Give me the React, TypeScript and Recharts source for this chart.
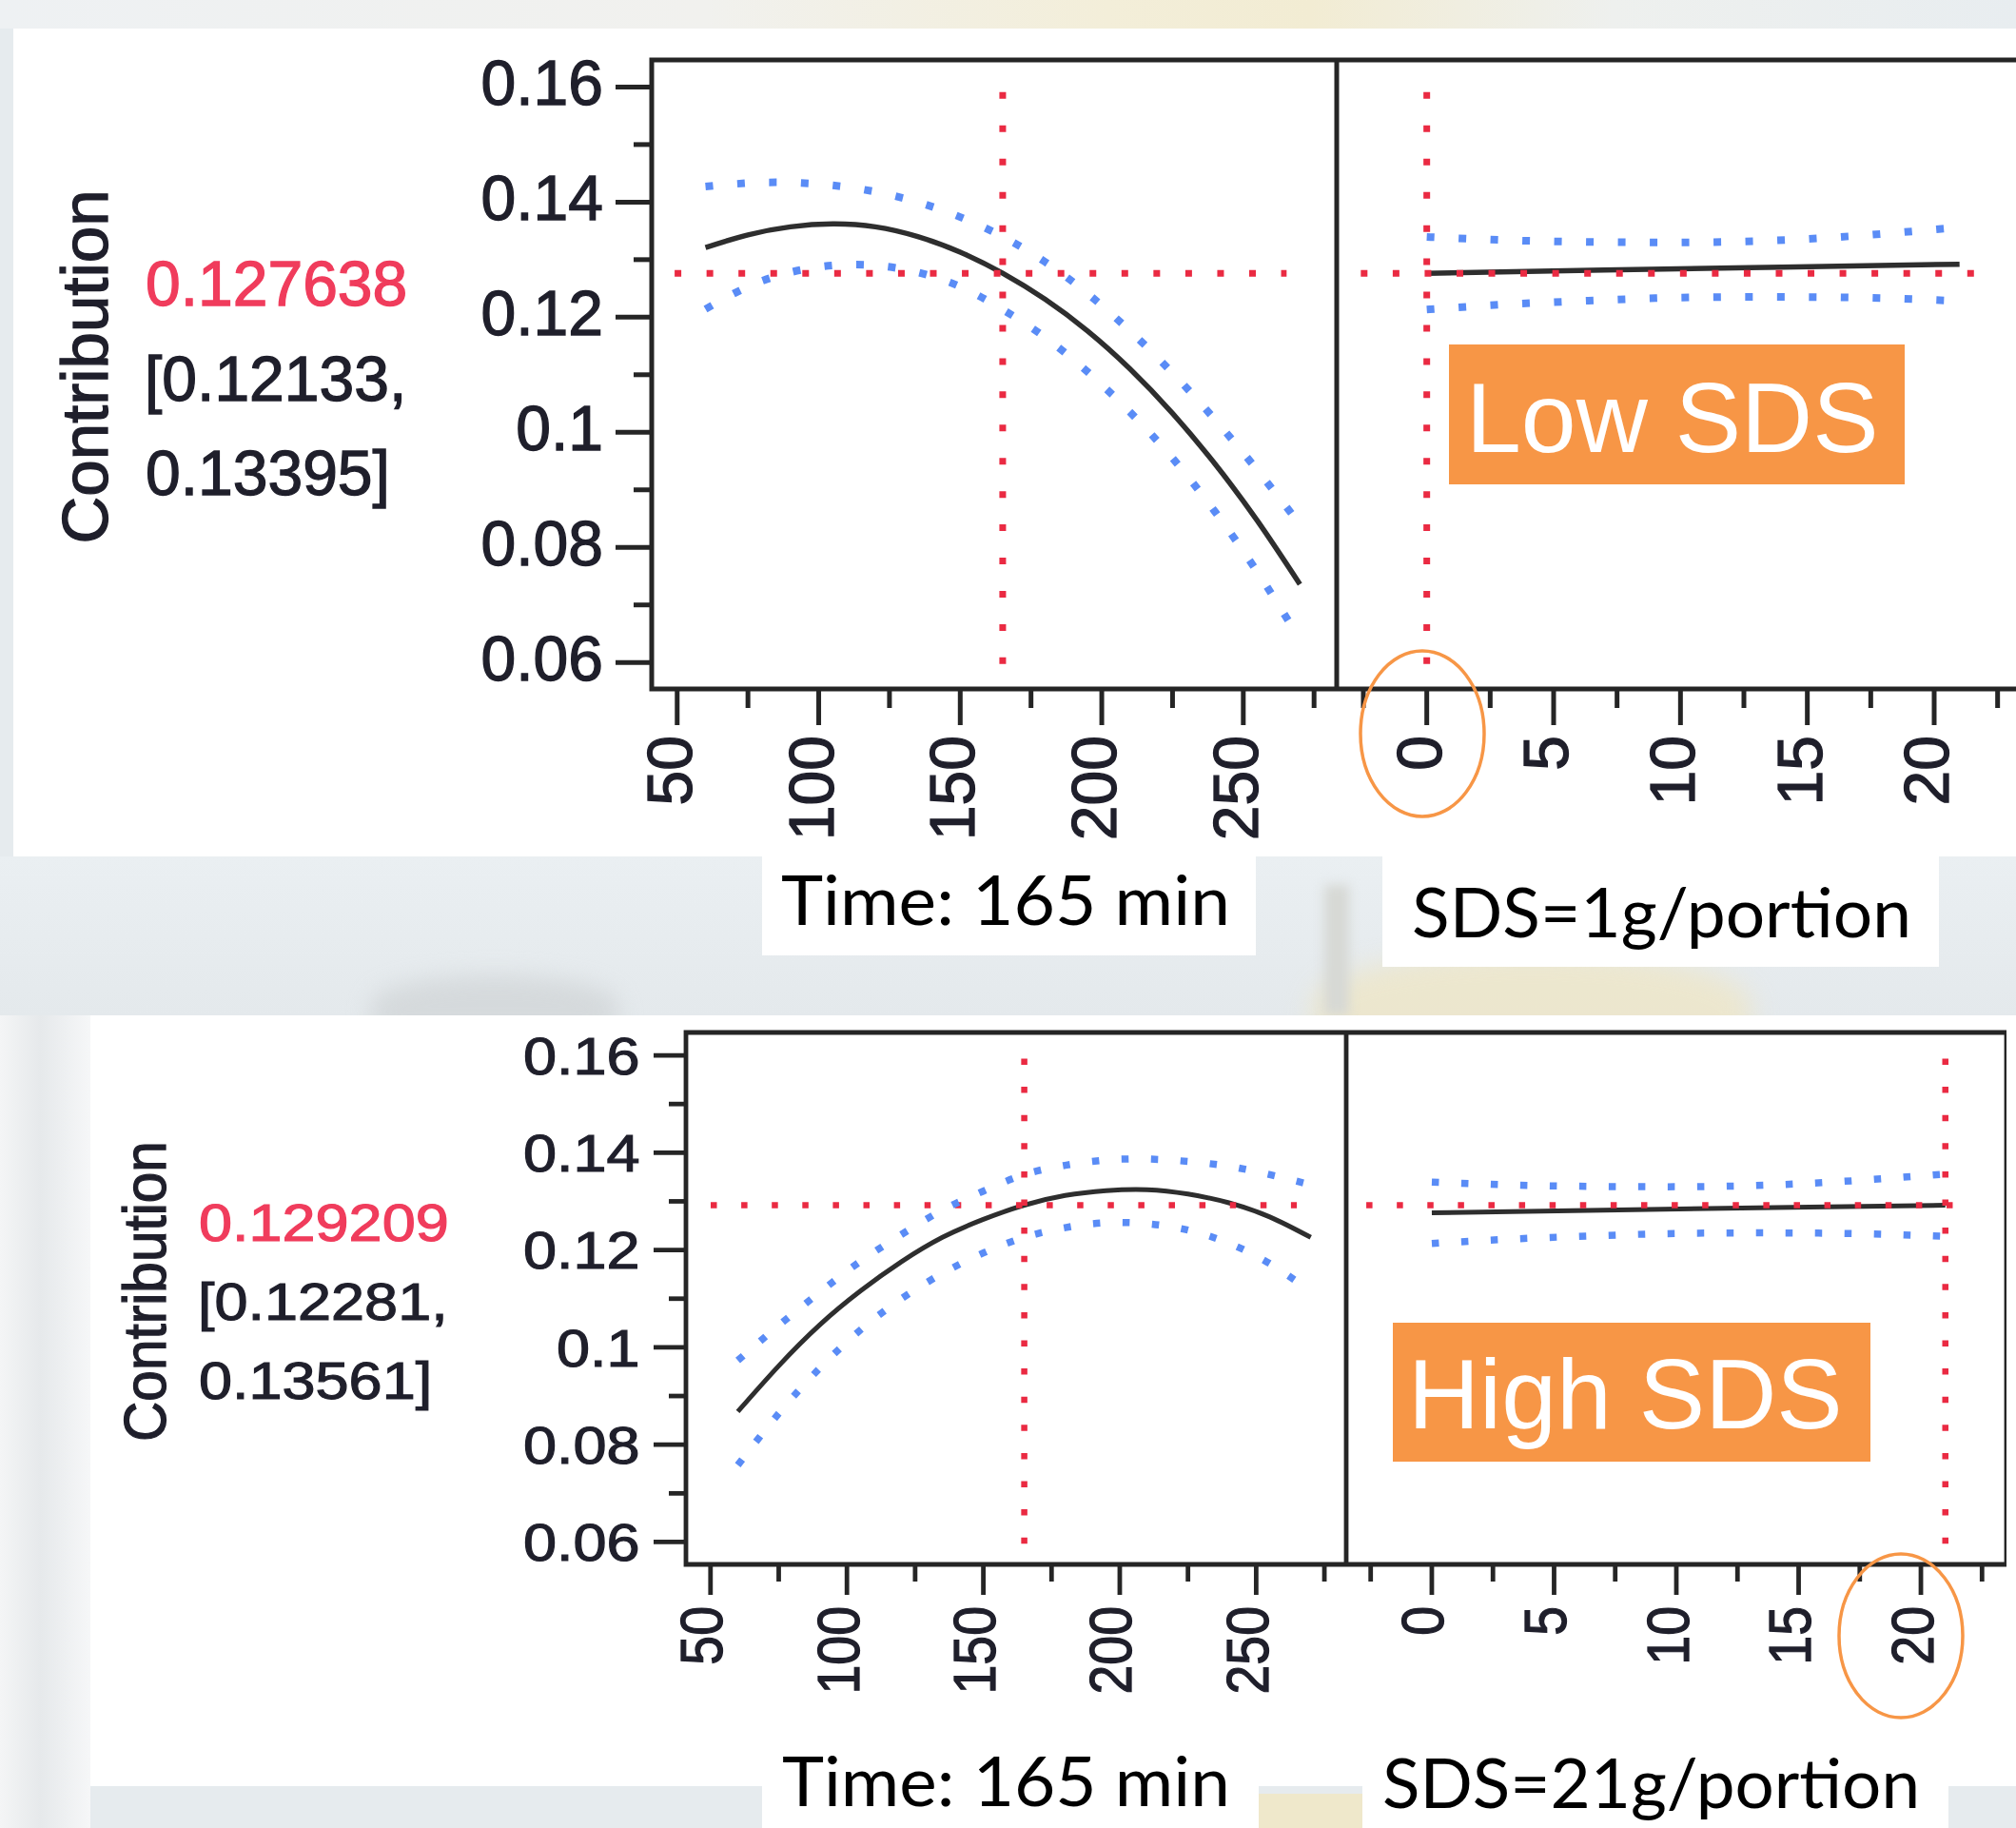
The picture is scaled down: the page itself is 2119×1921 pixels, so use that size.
import React from 'react';
import { LineChart, Line, XAxis, YAxis, ReferenceLine, ReferenceArea } from 'recharts';

// ---------- data ----------
const timeGrid = [60, 75, 90, 105, 120, 135, 150, 165, 180, 195, 210, 225, 240, 255, 270];

// Low SDS profile (SDS at 0): contribution vs time
const lowTimeMean = [0.1321, 0.1343, 0.1357, 0.1362, 0.1357, 0.134, 0.1313, 0.127638, 0.1231, 0.1176, 0.111, 0.1033, 0.0945, 0.0846, 0.0736];
const lowTimeUpper = [0.1427, 0.1433, 0.1434, 0.1429, 0.1418, 0.14, 0.1374, 0.134, 0.1296, 0.1241, 0.1176, 0.1103, 0.1022, 0.0934, 0.084];
const lowTimeLower = [0.1214, 0.1253, 0.1278, 0.129, 0.129, 0.1278, 0.1253, 0.12133, 0.1165, 0.1105, 0.1035, 0.0955, 0.0862, 0.0757, 0.064];

// High SDS profile (SDS at 21): contribution vs time
const highTimeMean = [0.0868, 0.0962, 0.1046, 0.1116, 0.1176, 0.1226, 0.1263, 0.129209, 0.1312, 0.1322, 0.1324, 0.1315, 0.1297, 0.1268, 0.1226];
const highTimeUpper = [0.0973, 0.1045, 0.1113, 0.1177, 0.1232, 0.1282, 0.1321, 0.1355, 0.1374, 0.1385, 0.1387, 0.1382, 0.1372, 0.1355, 0.1334];
const highTimeLower = [0.0758, 0.0864, 0.0957, 0.1036, 0.11, 0.1152, 0.1194, 0.1226, 0.1246, 0.1256, 0.1254, 0.1241, 0.1214, 0.1172, 0.1115];

// contribution vs SDS at time 165 (same in both rows)
const sdsMeanGrid = [0, 7, 14, 21];
const sdsMean = [0.127638, 0.1282, 0.1287, 0.129209];
const sdsCiGrid = [0, 3, 6, 9, 12, 15, 18, 21];
const sdsUpper = [0.13395, 0.1334, 0.1331, 0.133, 0.1331, 0.1336, 0.1345, 0.13561];
const sdsLower = [0.12133, 0.1222, 0.1228, 0.1233, 0.1235, 0.1235, 0.1233, 0.12281];

// ticks
const timeMajorTicks = [50, 100, 150, 200, 250];
const timeMinorTicks = [75, 125, 175, 225, 275];
const sdsMajorTicks = [0, 5, 10, 15, 20];
const sdsMinorTicks = [-2.5, 2.5, 7.5, 12.5, 17.5, 22.5];
const yMajorTicks = [0.06, 0.08, 0.1, 0.12, 0.14, 0.16];
const yMinorTicks = [0.07, 0.09, 0.11, 0.13, 0.15];
const yTickLabels = ['0.06', '0.08', '0.1', '0.12', '0.14', '0.16'];

// profiler settings
const lowProfile = { value: '0.127638', ciLow: '[0.12133,', ciHigh: '0.13395]', y: 0.127638, time: 165, sds: 0 };
const highProfile = { value: '0.129209', ciLow: '[0.12281,', ciHigh: '0.13561]', y: 0.129209, time: 165, sds: 21 };

const annotations = {
  lowTime: 'Time: 165 min',
  lowSds: 'SDS=1g/portion',
  highTime: 'Time: 165 min',
  highSds: 'SDS=21g/portion',
  lowTag: 'Low SDS',
  highTag: 'High SDS',
};

const TIME_DOMAIN: [number, number] = [41, 283];
const SDS_DOMAIN_TOP: [number, number] = [-3.55, 23.45];
const SDS_DOMAIN_BOTTOM: [number, number] = [-3.5, 23.5];
const Y_DOMAIN: [number, number] = [0.0554, 0.1647];

// ---------- styles ----------
const AXIS = '#252525';
const INK = '#1f1f2b';
const RED = '#ea2a42';
const RED_TEXT = '#f03c5c';
const BLUE = '#5a8cf6';
const MEAN = '#2e2e2e';
const ORANGE = '#F79646';
const ARIAL = '"Liberation Sans", Arial, sans-serif';

type Pt = { x: number; y: number };
const pts = (xs: number[], ys: number[]): Pt[] => xs.map((x, i) => ({ x, y: ys[i] }));
const near = (arr: number[], v: number) => arr.findIndex((m) => Math.abs(m - v) < 1e-9);

type Look = {
  xLen: number; xMinor: number; xGap: number; xDy: number;
  yLen: number; yMinor: number; yGap: number; yDy: number;
  font: number; sy: number; tickW: number; boxW: number;
  meanW: number; redW: number; hDash: string; vDash: string; blueW: number; blueDash: string;
};

const topLook: Look = {
  xLen: 38, xMinor: 20, xGap: 49, xDy: 15,
  yLen: 38, yMinor: 19, yGap: 51, yDy: 18.6,
  font: 66, sy: 1, tickW: 5, boxW: 5,
  meanW: 5.5, redW: 7, hDash: '7 26.55', vDash: '7 27.94', blueW: 8, blueDash: '8 25.5',
};
const bottomLook: Look = {
  xLen: 32, xMinor: 18, xGap: 44, xDy: 12.5,
  yLen: 34, yMinor: 18, yGap: 48.5, yDy: 22.5,
  font: 63, sy: 0.88, tickW: 4.8, boxW: 4.8,
  meanW: 5, redW: 6.5, hDash: '6.5 25.6', vDash: '6.5 23.1', blueW: 7.5, blueDash: '7.5 23.5',
};

const textInk = { stroke: INK, strokeWidth: 1.3 };

function XTick(props: any) {
  const { x, y, payload, majors, look } = props;
  const v = payload.value;
  const isMajor = near(majors, v) >= 0;
  return (
    <g>
      <line x1={x} x2={x} y1={y} y2={y + (isMajor ? look.xLen : look.xMinor)} stroke={AXIS} strokeWidth={look.tickW} />
      {isMajor && (
        <text
          transform={`translate(${x},${y + look.xGap}) scale(1,${look.sy}) rotate(-90)`}
          textAnchor="end"
          dy={look.xDy}
          fontSize={look.font}
          fontFamily={ARIAL}
          fill={INK}
          {...textInk}
        >
          {String(v)}
        </text>
      )}
    </g>
  );
}

function YTick(props: any) {
  const { x, y, payload, look } = props;
  const v = payload.value;
  const idx = near(yMajorTicks, v);
  const isMajor = idx >= 0;
  return (
    <g>
      <line x1={x - (isMajor ? look.yLen : look.yMinor)} x2={x} y1={y} y2={y} stroke={AXIS} strokeWidth={look.tickW} />
      {isMajor && (
        <text
          transform={`translate(${x - look.yGap},${y}) scale(1,${look.sy})`}
          textAnchor="end"
          dy={look.yDy}
          fontSize={look.font}
          fontFamily={ARIAL}
          fill={INK}
          {...textInk}
        >
          {yTickLabels[idx]}
        </text>
      )}
    </g>
  );
}

type PanelProps = {
  left: number; top: number; width: number; height: number; marginTop: number;
  yAxisWidth: number; xAxisHeight: number;
  xDomain: [number, number];
  majors: number[]; minors: number[];
  showY: boolean;
  mean: Pt[]; upper: Pt[]; lower: Pt[];
  hLine: [number, number]; yValue: number;
  vX: number; vLine: [number, number];
  look: Look;
};

function Panel(p: PanelProps) {
  const ticks = [...p.majors, ...p.minors].sort((a, b) => a - b);
  const yTicks = [...yMajorTicks, ...yMinorTicks].sort((a, b) => a - b);
  const L = p.look;
  return (
    <div style={{ position: 'absolute', left: p.left, top: p.top }}>
      <LineChart width={p.width} height={p.height} margin={{ top: p.marginTop, right: 0, bottom: 0, left: 0 }}>
        <XAxis
          dataKey="x"
          type="number"
          domain={p.xDomain}
          allowDataOverflow
          ticks={ticks}
          interval={0}
          height={p.xAxisHeight}
          axisLine={false}
          tickLine={false}
          tickSize={0}
          tickMargin={0}
          tick={(tp: any) => <XTick {...tp} majors={p.majors} look={L} />}
        />
        <YAxis
          type="number"
          domain={Y_DOMAIN}
          allowDataOverflow
          hide={!p.showY}
          width={p.showY ? p.yAxisWidth : 0}
          ticks={yTicks}
          interval={0}
          axisLine={false}
          tickLine={false}
          tickSize={0}
          tickMargin={0}
          tick={(tp: any) => <YTick {...tp} look={L} />}
        />
        <Line data={p.mean} dataKey="y" type="natural" stroke={MEAN} strokeWidth={L.meanW} dot={false} isAnimationActive={false} />
        <ReferenceLine
          segment={[{ x: p.hLine[0], y: p.yValue }, { x: p.hLine[1], y: p.yValue }]}
          stroke={RED}
          strokeWidth={L.redW}
          strokeDasharray={L.hDash}
          ifOverflow="visible"
        />
        <ReferenceLine
          segment={[{ x: p.vX, y: p.vLine[0] }, { x: p.vX, y: p.vLine[1] }]}
          stroke={RED}
          strokeWidth={L.redW}
          strokeDasharray={L.vDash}
          ifOverflow="visible"
        />
        <Line data={p.upper} dataKey="y" type="natural" stroke={BLUE} strokeWidth={L.blueW} strokeDasharray={L.blueDash} dot={false} isAnimationActive={false} />
        <Line data={p.lower} dataKey="y" type="natural" stroke={BLUE} strokeWidth={L.blueW} strokeDasharray={L.blueDash} dot={false} isAnimationActive={false} />
        <ReferenceArea
          x1={p.xDomain[0]}
          x2={p.xDomain[1]}
          y1={Y_DOMAIN[0]}
          y2={Y_DOMAIN[1]}
          fill="none"
          fillOpacity={0}
          stroke={AXIS}
          strokeWidth={L.boxW}
          ifOverflow="visible"
        />
      </LineChart>
    </div>
  );
}

function Box(props: { l: number; t: number; w: number; h: number; bg: string; extra?: React.CSSProperties }) {
  return <div style={{ position: 'absolute', left: props.l, top: props.t, width: props.w, height: props.h, background: props.bg, ...props.extra }} />;
}

export default function App() {
  return (
    <div style={{ position: 'absolute', left: 0, top: 0, width: 2119, height: 1921, overflow: 'hidden', background: '#e6ebee' }}>
      {/* slide background */}
      <Box l={0} t={0} w={2119} h={30} bg="linear-gradient(90deg,#eef1f3 0%,#f1f1ee 35%,#f3eed9 55%,#f2ecd3 65%,#eef0ee 80%,#e8edf0 100%)" />
      <Box l={0} t={900} w={2119} h={167} bg="linear-gradient(180deg,#eaeff2 0%,#e4e9ec 100%)" />
      <Box l={1380} t={1000} w={460} h={110} bg="#efe6c4" extra={{ borderRadius: '50% 50% 0 0', filter: 'blur(14px)', opacity: 0.75 }} />
      <Box l={390} t={1025} w={260} h={60} bg="#cfd3d5" extra={{ borderRadius: '50% 50% 0 0', filter: 'blur(12px)', opacity: 0.7 }} />
      <Box l={1392} t={930} w={26} h={137} bg="#d6d8d4" extra={{ filter: 'blur(6px)' }} />
      <Box l={14} t={30} w={2105} h={870} bg="#ffffff" />
      <Box l={801} t={895} w={519} h={109} bg="#ffffff" />
      <Box l={1453} t={895} w={585} h={121} bg="#ffffff" />
      <Box l={0} t={1067} w={95} h={854} bg="linear-gradient(90deg,#f4f5f6 0%,#e6e9eb 45%,#f6f7f8 100%)" />
      <Box l={95} t={1067} w={2024} h={810} bg="#ffffff" />
      <Box l={801} t={1877} w={522} h={44} bg="#ffffff" />
      <Box l={1323} t={1885} w={109} h={36} bg="#efe8cb" />
      <Box l={1432} t={1877} w={616} h={44} bg="#ffffff" />

      {/* Low SDS row */}
      <Panel
        left={0} top={0} width={1405} height={894} marginTop={63}
        yAxisWidth={685} xAxisHeight={170}
        xDomain={TIME_DOMAIN} majors={timeMajorTicks} minors={timeMinorTicks} showY
        mean={pts(timeGrid, lowTimeMean)} upper={pts(timeGrid, lowTimeUpper)} lower={pts(timeGrid, lowTimeLower)}
        hLine={[49.1, 265.3]} yValue={lowProfile.y} vX={lowProfile.time} vLine={[0.1591, 0.0597]} look={topLook}
      />
      <Panel
        left={1405} top={0} width={720} height={894} marginTop={63}
        yAxisWidth={0} xAxisHeight={170}
        xDomain={SDS_DOMAIN_TOP} majors={sdsMajorTicks} minors={sdsMinorTicks} showY={false}
        mean={pts(sdsMeanGrid, sdsMean)} upper={pts(sdsCiGrid, sdsUpper)} lower={pts(sdsCiGrid, sdsLower)}
        hLine={[-2.6, 21.58]} yValue={lowProfile.y} vX={lowProfile.sds} vLine={[0.1591, 0.0597]} look={topLook}
      />

      {/* High SDS row */}
      <Panel
        left={0} top={1000} width={1415} height={794} marginTop={85}
        yAxisWidth={721} xAxisHeight={150}
        xDomain={TIME_DOMAIN} majors={timeMajorTicks} minors={timeMinorTicks} showY
        mean={pts(timeGrid, highTimeMean)} upper={pts(timeGrid, highTimeUpper)} lower={pts(timeGrid, highTimeLower)}
        hLine={[50.07, 264.9]} yValue={highProfile.y} vX={highProfile.time} vLine={[0.15932, 0.0596]} look={bottomLook}
      />
      <Panel
        left={1415} top={1000} width={694} height={794} marginTop={85}
        yAxisWidth={0} xAxisHeight={150}
        xDomain={SDS_DOMAIN_BOTTOM} majors={sdsMajorTicks} minors={sdsMinorTicks} showY={false}
        mean={pts(sdsMeanGrid, sdsMean)} upper={pts(sdsCiGrid, sdsUpper)} lower={pts(sdsCiGrid, sdsLower)}
        hLine={[-2.68, 21.58]} yValue={highProfile.y} vX={highProfile.sds} vLine={[0.15932, 0.0596]} look={bottomLook}
      />

      {/* labels and slide annotations */}
      <svg width={2119} height={1921} style={{ position: 'absolute', left: 0, top: 0, pointerEvents: 'none' }}>
        <g fontFamily={ARIAL} strokeWidth={1.3}>
          <text transform="translate(113,385.5) rotate(-90)" textAnchor="middle" fontSize={69} fill={INK} stroke={INK}>Contribution</text>
          <text x={153} y={321} fontSize={66} fill={RED_TEXT} stroke={RED_TEXT}>{lowProfile.value}</text>
          <text x={152} y={421} fontSize={66} fill={INK} stroke={INK}>{lowProfile.ciLow}</text>
          <text x={153} y={520} fontSize={66} fill={INK} stroke={INK}>{lowProfile.ciHigh}</text>

          <text transform="translate(173.5,1357) scale(1,0.93) rotate(-90)" textAnchor="middle" fontSize={63} fill={INK} stroke={INK}>Contribution</text>
          <text transform="translate(209,1304) scale(1,0.88)" fontSize={63} fill={RED_TEXT} stroke={RED_TEXT}>{highProfile.value}</text>
          <text transform="translate(208,1387) scale(1,0.88)" fontSize={63} fill={INK} stroke={INK}>{highProfile.ciLow}</text>
          <text transform="translate(209,1470) scale(1,0.88)" fontSize={63} fill={INK} stroke={INK}>{highProfile.ciHigh}</text>
        </g>

        <rect x={1523} y={362} width={479} height={147} fill={ORANGE} />
        <text x={1541} y={475} fontSize={104} fontFamily={ARIAL} fill="#ffffff">{annotations.lowTag}</text>
        <rect x={1464} y={1390} width={502} height={146} fill={ORANGE} />
        <text x={1480} y={1501} fontSize={104} fontFamily={ARIAL} fill="#ffffff">{annotations.highTag}</text>

        <ellipse cx={1495} cy={771} rx={65} ry={87} fill="none" stroke={ORANGE} strokeWidth={3.5} />
        <ellipse cx={1998} cy={1719} rx={65} ry={86} fill="none" stroke={ORANGE} strokeWidth={3.5} />

        <g fontFamily="Lato, 'Open Sans', sans-serif" fontSize={71} fill="#000000">
          <text x={821} y={972} textLength={472} lengthAdjust="spacingAndGlyphs">{annotations.lowTime}</text>
          <text x={1484} y={985} textLength={525} lengthAdjust="spacingAndGlyphs">{annotations.lowSds}</text>
          <text x={822} y={1898} textLength={471} lengthAdjust="spacingAndGlyphs">{annotations.highTime}</text>
          <text x={1453} y={1900} textLength={565} lengthAdjust="spacingAndGlyphs">{annotations.highSds}</text>
        </g>
      </svg>
    </div>
  );
}
